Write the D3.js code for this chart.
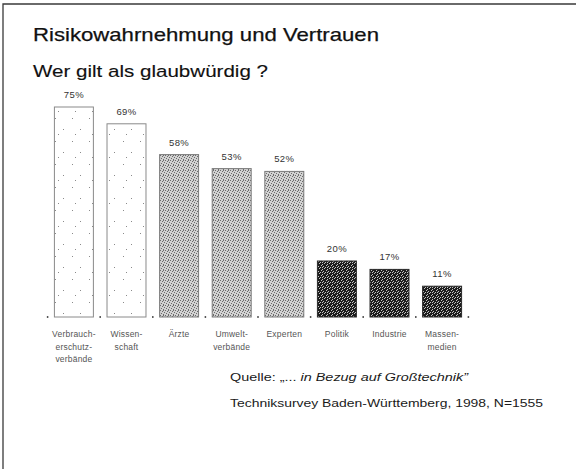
<!DOCTYPE html>
<html lang="de">
<head>
    <meta charset="UTF-8"/>
    <title>Risikowahrnehmung und Vertrauen</title>
    <script src="https://d3js.org/d3.v7.min.js" charset="utf-8"></script>
    <style type="text/css">
        body {
            margin: 0;
            background: #fff;
        }
        text {
            font-family: "Liberation Sans", Arial, sans-serif;
        }
        .frame {
            fill: none;
            stroke: #3a3a3a;
            stroke-width: 1.3px;
        }
        .bar {
            stroke-width: 1px;
        }
        .pct {
            font-size: 9.5px;
            fill: #333;
            letter-spacing: 0.4px;
        }
        .cat {
            font-size: 8.5px;
            fill: #555;
            letter-spacing: 0.2px;
        }
        .src {
            font-size: 11.5px;
            fill: #1a1a1a;
        }
    </style>
</head>
<body>
<svg width="576" height="469"></svg>
<script>

    // Werte
    const categories = ["Verbraucherschutzverbände", "Wissenschaft", "Ärzte", "Umweltverbände",
        "Experten", "Politik", "Industrie", "Massenmedien"];
    const labelLines = [
        ["Verbrauch-", "erschutz-", "verbände"],
        ["Wissen-", "schaft"],
        ["Ärzte"],
        ["Umwelt-", "verbände"],
        ["Experten"],
        ["Politik"],
        ["Industrie"],
        ["Massen-", "medien"]
    ];
    const values = [75, 69, 58, 53, 52, 20, 17, 11];

    const title = "Risikowahrnehmung und Vertrauen";
    const subtitle = "Wer gilt als glaubwürdig ?";
    const sourceLine2 = "Techniksurvey Baden-Württemberg, 1998, N=1555";

    const svg = d3.select("svg");

    // Raster-Muster wie im gescannten Original
    const defs = svg.append("defs");

    function stipple(id, size, base, dot, pts) {
        const p = defs.append("pattern")
            .attr("id", id)
            .attr("width", size[0]).attr("height", size[1])
            .attr("patternUnits", "userSpaceOnUse");
        p.append("rect").attr("width", size[0]).attr("height", size[1]).attr("fill", base);
        pts.forEach(function(q) {
            p.append("rect").attr("x", q[0]).attr("y", q[1])
                .attr("width", 1).attr("height", 1).attr("fill", dot);
        });
    }
    stipple("light", [17, 23], "#ffffff", "#8a8a8a", [[4, 3], [12, 14], [7, 19]]);
    stipple("mid", [5, 5], "#d2d2d2", "#6a6a6a", [[0, 0], [2, 1], [4, 2], [1, 3], [3, 4], [3, 0]]);
    stipple("dark", [5, 5], "#1c1c1c", "#c4c4c4", [[1, 0], [3, 1], [0, 2], [4, 3], [2, 4], [2, 2]]);

    const fill = d3.scaleThreshold().domain([30, 60]).range(["url(#dark)", "url(#mid)", "url(#light)"]);
    const stroke = d3.scaleThreshold().domain([30, 60]).range(["#2a2a2a", "#7a7a7a", "#8a8a8a"]);

    // Rahmen (nur oben und links sichtbar)
    svg.append("path")
        .attr("class", "frame")
        .attr("d", "M3,469 L3,4 L576,4");

    svg.append("text")
        .attr("x", 33).attr("y", 41)
        .attr("font-size", "19px")
        .attr("fill", "#111")
        .attr("stroke", "#111")
        .attr("stroke-width", 0.25)
        .attr("textLength", 346)
        .attr("lengthAdjust", "spacingAndGlyphs")
        .text(title);

    svg.append("text")
        .attr("x", 33).attr("y", 77)
        .attr("font-size", "17px")
        .attr("fill", "#111")
        .attr("stroke", "#111")
        .attr("stroke-width", 0.12)
        .attr("textLength", 235)
        .attr("lengthAdjust", "spacingAndGlyphs")
        .text(subtitle);

    const x = d3.scaleBand()
        .domain(categories)
        .range([47.6, 468.4])
        .paddingInner(0.24)
        .paddingOuter(0.12);

    const y = d3.scaleLinear()
        .domain([0, 75])
        .range([317, 107]);

    const g = svg.append("g");

    g.selectAll(".bar")
        .data(values)
        .enter().append("rect")
        .attr("class", "bar")
        .attr("x", function(d, i) { return x(categories[i]) + 0.5; })
        .attr("y", function(d) { return y(d); })
        .attr("width", x.bandwidth() - 1)
        .attr("height", function(d) { return y(0) - y(d); })
        .attr("fill", function(d) { return fill(d); })
        .attr("stroke", function(d) { return stroke(d); });

    g.selectAll(".pct")
        .data(values)
        .enter().append("text")
        .attr("class", "pct")
        .attr("text-anchor", "middle")
        .attr("x", function(d, i) { return x(categories[i]) + x.bandwidth() / 2; })
        .attr("y", function(d) { return y(d) - 9; })
        .text(function(d) { return d + "%"; });

    // kleine Markierungen auf der Grundlinie zwischen den Balken
    g.selectAll(".tick")
        .data(categories.concat(["end"]))
        .enter().append("rect")
        .attr("class", "tick")
        .attr("x", function(d, i) { return x.range()[0] + i * x.step() - 0.75; })
        .attr("y", y(0) - 1)
        .attr("width", 1.5)
        .attr("height", 2)
        .attr("fill", "#555");

    const cat = g.selectAll(".cat")
        .data(labelLines)
        .enter().append("text")
        .attr("class", "cat")
        .attr("text-anchor", "middle")
        .attr("x", function(d, i) { return x(categories[i]) + x.bandwidth() / 2; })
        .attr("y", 337);

    cat.selectAll("tspan")
        .data(function(d) { return d; })
        .enter().append("tspan")
        .attr("x", function() { return d3.select(this.parentNode).attr("x"); })
        .attr("dy", function(d, i) { return i === 0 ? 0 : 12.5; })
        .text(function(d) { return d; });

    const src1 = svg.append("text")
        .attr("class", "src")
        .attr("x", 230).attr("y", 381)
        .attr("textLength", 238)
        .attr("lengthAdjust", "spacingAndGlyphs");
    src1.append("tspan").text("Quelle: „... ");
    src1.append("tspan").attr("font-style", "italic").text("in Bezug auf Großtechnik\u201D");

    svg.append("text")
        .attr("class", "src")
        .attr("x", 230).attr("y", 407)
        .attr("textLength", 313)
        .attr("lengthAdjust", "spacingAndGlyphs")
        .text(sourceLine2);

</script>
</body>
</html>
